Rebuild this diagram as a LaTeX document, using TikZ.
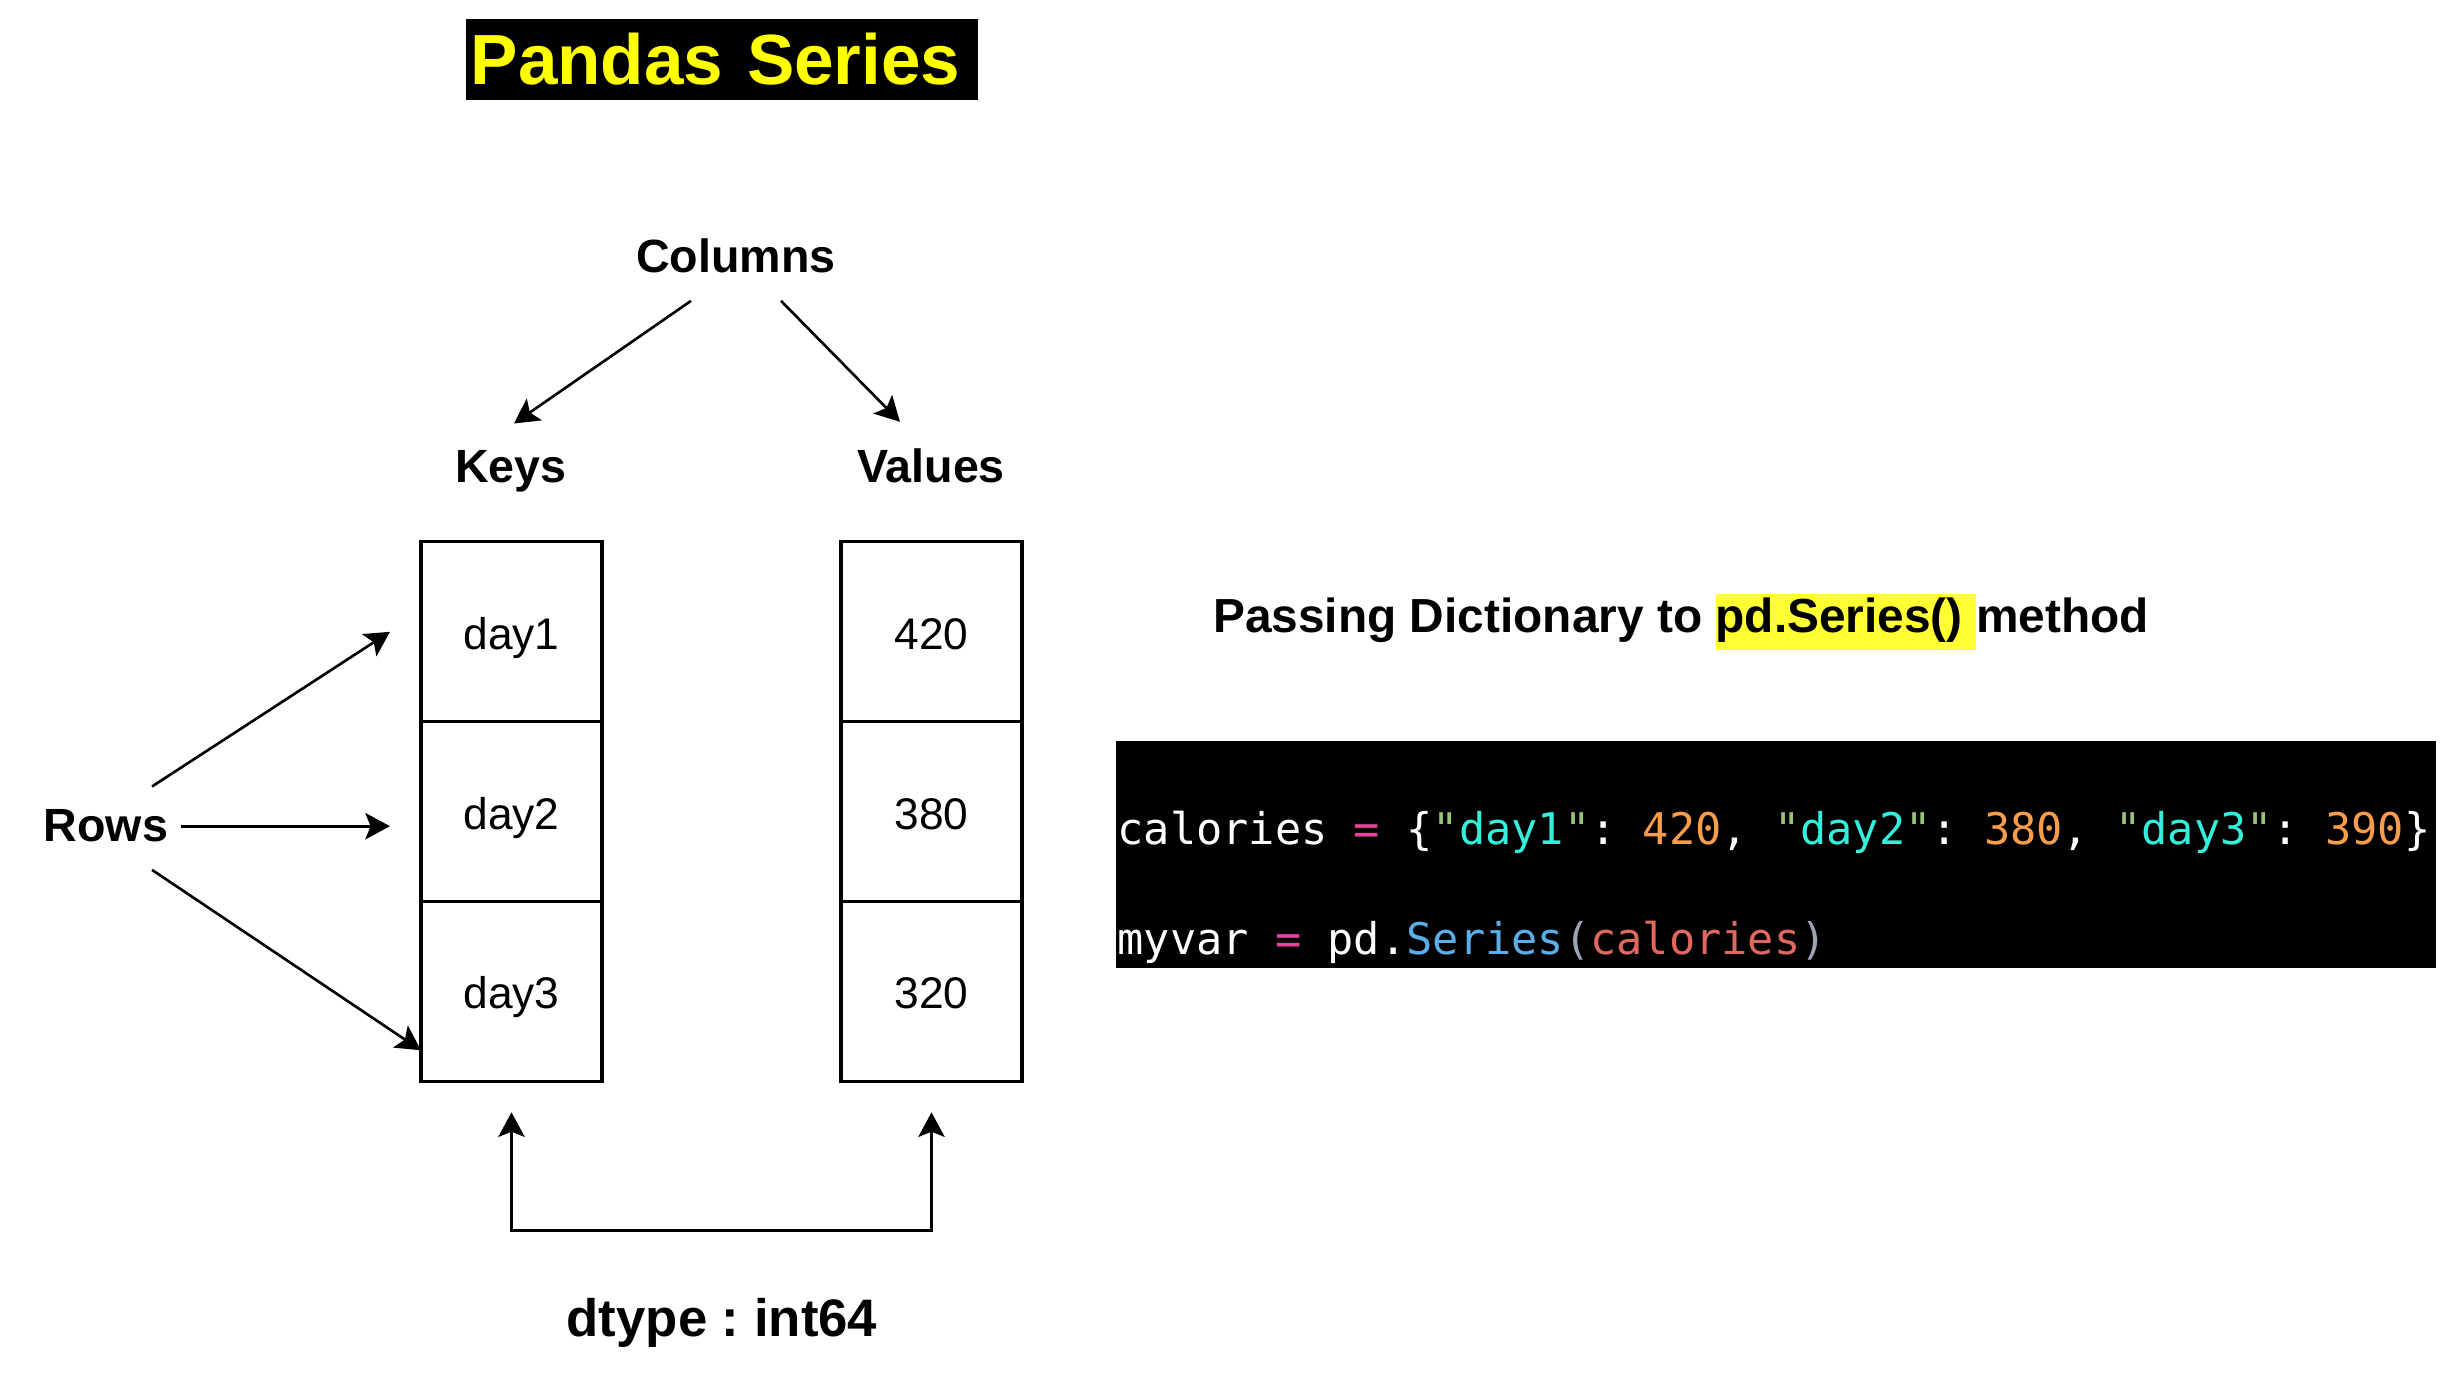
\documentclass[tikz,border=0pt]{standalone}
\usepackage{fontspec}
\setmainfont{Liberation Sans}
\newfontfamily\codefont{DejaVu Sans Mono}
\usetikzlibrary{arrows.meta, positioning}
\definecolor{hlyellow}{HTML}{FFFF33}
\definecolor{titleyellow}{HTML}{FFFF00}
\definecolor{cdpink}{HTML}{E6449B}
\definecolor{cdgreen}{HTML}{98C379}
\definecolor{cdcyan}{HTML}{33F0DC}
\definecolor{cdorange}{HTML}{F99D4C}
\definecolor{cdblue}{HTML}{5AAEEA}
\definecolor{cdred}{HTML}{E0685E}
\definecolor{cdgray}{HTML}{9AA5B4}
\newcommand{\dkey}[1]{\textcolor{cdgreen}{"}\textcolor{cdcyan}{#1}\textcolor{cdgreen}{"}}
\frenchspacing

\begin{document}
\begin{tikzpicture}[
  x=0.01cm, y=-0.01cm,
  >={Stealth[length=7pt, width=7.5pt, inset=1.5pt]},
  arr/.style={->, line width=0.75pt},
  lbl/.style={font=\fontsize{13.25}{16}\selectfont\bfseries, anchor=base},
  cell/.style={draw, line width=0.9pt, minimum width=1.81cm, minimum height=1.797cm,
    outer sep=0pt, inner sep=0pt, text height=10pt, text depth=0pt,
    font=\fontsize{12.6}{15}\selectfont},
  codeline/.style={anchor=base west, inner sep=0pt, text=white,
    font=\codefont\fontsize{12.4}{14}\selectfont}
]
\useasboundingbox (0,0) rectangle (2463,1383);

% ── Title ──
\node[fill=black, text=titleyellow, anchor=west, inner xsep=0.05cm,
  text width=5.02cm, align=left, minimum height=0.81cm,
  font=\fontsize{20.2}{24}\selectfont\bfseries] (title) at (465,59.5) {Pandas Series};

% ── Column labels ──
\node[lbl] (cols) at (736,273) {Columns};
\node[lbl] (keys) at (511,483) {Keys};
\node[lbl] (vals) at (931,483) {Values};

% ── Key / value cells ──
\node[cell] (key1) at (511.5,631.8) {day1};
\node[cell, below=0pt of key1] (key2) {day2};
\node[cell, below=0pt of key2] (key3) {day3};
\node[cell] (val1) at (931.5,631.8) {420};
\node[cell, below=0pt of val1] (val2) {380};
\node[cell, below=0pt of val2] (val3) {320};

% ── Rows ──
\node[lbl] (rows) at (106,842) {Rows};
\node[lbl, font=\fontsize{15}{18}\selectfont\bfseries] (dtype) at (722,1336) {dtype : int64};

% ── Arrows ──
\draw[arr] ([xshift=-0.45cm, yshift=-0.15cm]cols.south) -- ([xshift=0.03cm, yshift=0.15cm]keys.north);
\draw[arr] ([xshift=0.45cm, yshift=-0.15cm]cols.south) -- ([xshift=-0.31cm, yshift=0.15cm]vals.north);
\draw[arr] ([xshift=0.46cm, yshift=0.11cm]rows.north) -- ([xshift=-0.31cm]key1.west);
\draw[arr] (rows.east) -- ([xshift=-0.31cm]rows.east -| key2.west);
\draw[arr] ([xshift=0.46cm, yshift=-0.15cm]rows.south) -- ([yshift=0.31cm]key3.south west);
\draw[arr, <->] ([yshift=-0.31cm]key3.south) -- ++(0,118) -| ([yshift=-0.31cm]val3.south);

% ── Code panel ──
\node[lbl, anchor=base, font=\fontsize{13.6}{16}\selectfont\bfseries] (pass) at (1681,633)
  {Passing Dictionary to {\setlength\fboxsep{0pt}\colorbox{hlyellow}{\strut pd.Series()\ }}method};
\node[fill=black, minimum width=13.19cm, minimum height=2.27cm, inner sep=0pt] (codebox) at (1776,854.5) {};
\node[codeline] (code1) at (1117,845)
  {calories \textcolor{cdpink}{=} \{\dkey{day1}: \textcolor{cdorange}{420}, \dkey{day2}: \textcolor{cdorange}{380}, \dkey{day3}: \textcolor{cdorange}{390}\}};
\node[codeline] (code2) at (1117,955)
  {myvar \textcolor{cdpink}{=} pd.\textcolor{cdblue}{Series}\textcolor{cdgray}{(}\textcolor{cdred}{calories}\textcolor{cdgray}{)}};

\end{tikzpicture}
\end{document}
